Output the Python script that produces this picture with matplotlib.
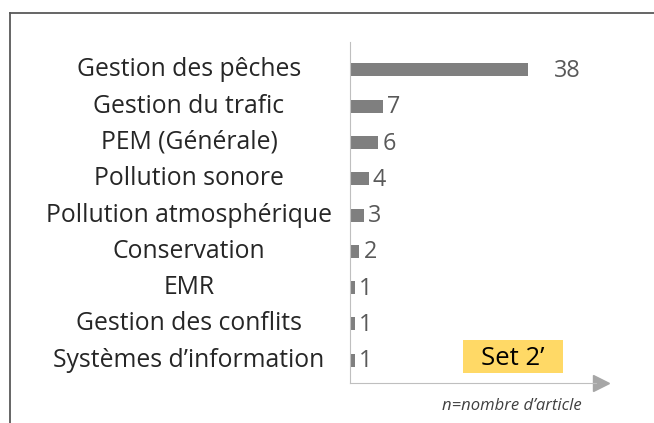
import matplotlib.pyplot as plt
from matplotlib.lines import Line2D
from matplotlib.patches import FancyBboxPatch
from matplotlib import transforms

plt.rcParams['font.family'] = ['Open Sans', 'DejaVu Sans']

categories = ["Gestion des pêches", "Gestion du trafic", "PEM (Générale)",
              "Pollution sonore", "Pollution atmosphérique", "Conservation",
              "EMR", "Gestion des conflits", "Systèmes d\u2019information"]
counts = [38, 7, 6, 4, 3, 2, 1, 1, 1]

W, H = 654, 423
fig = plt.figure(figsize=(W / 100, H / 100), dpi=100)

# axes box in pixels: left 350, right 608, top 42, bottom 383
ax = fig.add_axes([350 / W, 1 - 383 / H, (608 - 350) / W, (383 - 42) / H])
pos = list(range(len(categories)))
ax.barh(pos, counts, height=0.36, color='#7f7f7f')
ax.set_xlim(0, 55.1)
ax.set_ylim(8.63, -0.77)

for i, v in enumerate(counts):
    off = 5.5 if v >= 10 else 0.9
    ax.text(v + off, i + 0.03, str(v), va='center', ha='left', fontsize=16.8,
            color='#595959')

trans = transforms.blended_transform_factory(fig.transFigure, ax.transData)
for i, c in enumerate(categories):
    ax.text(189 / W, i, c, transform=trans, ha='center', va='center',
            fontsize=17.8, color='#262626')

for s in ['top', 'right']:
    ax.spines[s].set_visible(False)
ax.spines['left'].set_color('#bfbfbf')
ax.spines['bottom'].set_color('#bfbfbf')
ax.spines['bottom'].set_bounds(0, 52.5)
ax.set_xticks([])
ax.set_yticks([])

# arrow head on the x axis
ax.plot([0.973], [0], marker='>', markersize=11, color='#a6a6a6',
        transform=ax.transAxes, clip_on=False)

# "Set 2'" tag
fig.patches.append(FancyBboxPatch((463 / W, 1 - 373 / H), 100 / W, 33 / H,
                                  boxstyle='square,pad=0', transform=fig.transFigure,
                                  facecolor='#ffd966', edgecolor='none'))
fig.text(513 / W, 1 - 358 / H, "Set 2\u2019", ha='center', va='center',
         fontsize=18.5, color='black')

fig.text(512 / W, 1 - 406 / H, "n=nombre d\u2019article", ha='center', va='center',
         fontsize=12, style='italic', color='#404040')

# frame
fig.add_artist(Line2D([10 / W, 1], [1 - 13 / H, 1 - 13 / H], color='#595959',
                      lw=1.3, transform=fig.transFigure))
fig.add_artist(Line2D([10 / W, 10 / W], [1 - 13 / H, 0], color='#595959',
                      lw=1.3, transform=fig.transFigure))

fig.savefig('out.png', dpi=100)
